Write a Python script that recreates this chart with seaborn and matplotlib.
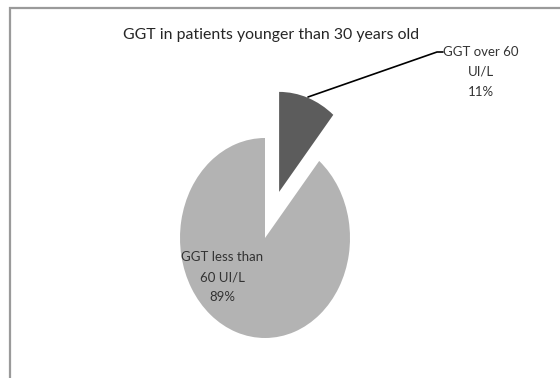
import matplotlib
matplotlib.use("Agg")
import matplotlib.pyplot as plt
import seaborn as sns

# Chart data
categories = ["GGT over 60 UI/L", "GGT less than 60 UI/L"]
shares = [11, 89]
label_lines = [["GGT over 60", "UI/L"], ["GGT less than", "60 UI/L"]]
title = "GGT in patients younger than 30 years old"

sns.set_theme(style="white")
plt.rcParams["font.family"] = ["Lato", "DejaVu Sans"]

W, H = 560, 378
fig = plt.figure(figsize=(W / 100, H / 100), dpi=100)
ax = fig.add_axes([0, 0, 1, 1])

# Data units: one unit = pie radius horizontally / vertically (slightly tall pie)
RX, RY = 85.0, 100.0


def px(x, y):
    return x / RX, (H - y) / RY


palette = sns.color_palette(["#5c5c5c", "#b3b3b3"])
ax.pie(shares, colors=palette, startangle=90, counterclock=False,
       explode=[0.49, 0.0], center=px(265, 238), radius=1.0, frame=True,
       wedgeprops=dict(linewidth=0))
ax.set_aspect("auto")
ax.set_xlim(0, W / RX)
ax.set_ylim(0, H / RY)
ax.axis("off")

# Chart-area border (top and left edges)
bx, by = zip(px(10, H + 5), px(10, 8.5), px(W + 5, 8.5))
ax.plot(bx, by, color="#9a9a9a", lw=1.6, clip_on=False, solid_joinstyle="miter")

# Title
ax.text(*px(271, 35), title, ha="center", va="center", fontsize=11.4, color="#262626")

# Slice labels
text_color = "#333333"
lbl_small = "\n".join(label_lines[0] + [f"{shares[0]}%"])
lbl_big = "\n".join(label_lines[1] + [f"{shares[1]}%"])
ax.text(*px(481, 72), lbl_small, ha="center", va="center", fontsize=9.5,
        linespacing=1.8, color=text_color)
ax.text(*px(222, 277), lbl_big, ha="center", va="center", fontsize=9.5,
        linespacing=1.8, color=text_color)

# Leader line to the small slice
lx, ly = zip(px(308, 97), px(437, 52), px(443, 52))
ax.plot(lx, ly, color="black", lw=1.2)

fig.savefig("out.png", dpi=100)
